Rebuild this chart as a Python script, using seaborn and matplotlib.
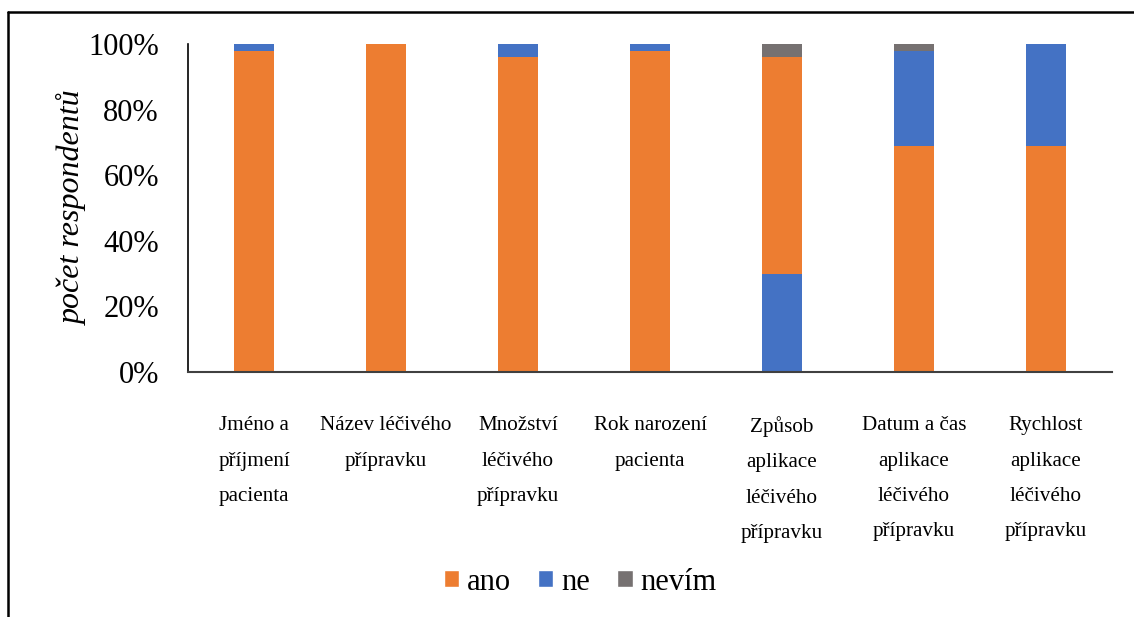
import pandas as pd
import matplotlib.pyplot as plt
from matplotlib.patches import Patch
from matplotlib.lines import Line2D
import seaborn as sns

# data
kategorie = ['Jméno a\npříjmení\npacienta', 'Název léčivého\npřípravku',
             'Množství\nléčivého\npřípravku', 'Rok narození\npacienta',
             'Způsob\naplikace\nléčivého\npřípravku',
             'Datum a čas\naplikace\nléčivého\npřípravku',
             'Rychlost\naplikace\nléčivého\npřípravku']
ano = [98, 100, 96, 98, 66, 69, 69]
ne = [2, 0, 4, 2, 30, 29, 31]
nevim = [0, 0, 0, 0, 4, 2, 0]
# u "Způsob aplikace" je v grafu modrá (ne) dole
ne_dole = [False, False, False, False, True, False, False]

barvy = {'ano': '#ED7D31', 'ne': '#4472C4', 'nevím': '#767171'}

sns.set_theme(style='white')
plt.rcParams['font.family'] = ['Liberation Serif', 'DejaVu Serif']
plt.rcParams['text.color'] = 'black'
plt.rcParams['xtick.color'] = 'black'
plt.rcParams['ytick.color'] = 'black'
plt.rcParams['axes.labelcolor'] = 'black'

# stacking -> long table of cumulative tops
rows = []
for i, k in enumerate(kategorie):
    seg = [('ano', ano[i]), ('ne', ne[i]), ('nevím', nevim[i])]
    if ne_dole[i]:
        seg = [seg[1], seg[0], seg[2]]
    top = 0
    for v, (nazev, hodnota) in enumerate(seg):
        top += hodnota
        rows.append({'kat': k, 'vrstva': v, 'top': top, 'barva': barvy[nazev]})
df = pd.DataFrame(rows)

fig = plt.figure(figsize=(11.34, 6.17), dpi=100)
ax = fig.add_axes([188 / 1134, 1 - 372 / 617, 924 / 1134, 328 / 617])

for v in [2, 1, 0]:
    sub = df[df['vrstva'] == v]
    sns.barplot(data=sub, x='kat', y='top', hue='kat', order=kategorie,
                hue_order=kategorie, palette=dict(zip(sub['kat'], sub['barva'])),
                dodge=False, width=0.31, saturation=1, linewidth=0,
                legend=False, ax=ax)

ax.set_ylim(0, 100)
ax.set_xlim(-0.5, len(kategorie) - 0.5)
ax.set_yticks([0, 20, 40, 60, 80, 100])
ax.set_yticklabels([f'{t}%' for t in range(0, 101, 20)], fontsize=22)
ax.tick_params(axis='y', length=0, pad=21)
ax.tick_params(axis='x', length=0, pad=32, labelsize=15.2)
for t in ax.get_xticklabels():
    t.set_linespacing(2.15)
ax.set_xlabel('')
ax.set_ylabel('počet respondentů', fontsize=23, style='italic')
ax.yaxis.set_label_coords(-0.108, 0.5)

sns.despine(ax=ax)
ax.spines['left'].set_color('black')
ax.spines['left'].set_linewidth(1.2)
ax.spines['bottom'].set_color('#404040')
ax.spines['bottom'].set_linewidth(1.5)

handles = [Patch(facecolor=barvy[n], label=n) for n in ['ano', 'ne', 'nevím']]
fig.legend(handles=handles, loc='center', bbox_to_anchor=(580 / 1134, 1 - 582 / 617),
           ncol=3, frameon=False, fontsize=22, handlelength=0.5, handleheight=0.5,
           handletextpad=0.25, columnspacing=0.9)

# frame around the figure (top and left edge)
fig.add_artist(Line2D([8 / 1134, 1], [1 - 12 / 617, 1 - 12 / 617], color='black', lw=1.8))
fig.add_artist(Line2D([8 / 1134, 8 / 1134], [0, 1 - 12 / 617], color='black', lw=1.8))

fig.savefig('out.png', dpi=100)
